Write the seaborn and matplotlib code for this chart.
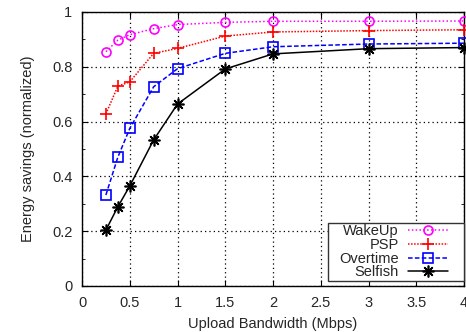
import matplotlib
matplotlib.use("Agg")
import matplotlib.pyplot as plt
import seaborn as sns
import pandas as pd
from matplotlib.ticker import MultipleLocator
from matplotlib.offsetbox import DrawingArea

bandwidth = [0.25, 0.375, 0.5, 0.75, 1.0, 1.5, 2.0, 3.0, 4.0]
wakeup = [0.855, 0.897, 0.917, 0.939, 0.954, 0.962, 0.966, 0.966, 0.967]
psp = [0.628, 0.729, 0.745, 0.849, 0.867, 0.912, 0.927, 0.932, 0.935]
overtime = [0.332, 0.470, 0.575, 0.727, 0.793, 0.849, 0.873, 0.883, 0.886]
selfish = [0.204, 0.289, 0.365, 0.533, 0.664, 0.792, 0.847, 0.866, 0.870]
series_names = ["WakeUp", "PSP", "Overtime", "Selfish"]
x_ticks = [0, 0.5, 1, 1.5, 2, 2.5, 3, 3.5, 4]
x_tick_labels = ["0", "0.5", "1", "1.5", "2", "2.5", "3", "3.5", "4"]
y_ticks = [0, 0.2, 0.4, 0.6, 0.8, 1.0]
y_tick_labels = ["0", "0.2", "0.4", "0.6", "0.8", "1"]

sns.set_style("ticks")
plt.rcParams['font.family'] = ['Liberation Sans', 'DejaVu Sans']
plt.rcParams['font.size'] = 10

fig = plt.figure(figsize=(4.66, 3.32), dpi=100)
ax = fig.add_axes([0.176, 0.1386, 0.820, 0.8254])

styles = {
    "WakeUp": dict(color="#ff00ff", linestyle=(0, (1, 1.5)), marker="o", mfc="none", ms=6.5),
    "PSP": dict(color="#ff0000", linestyle=(0, (1, 1)), marker="+", ms=9),
    "Overtime": dict(color="#0000ff", linestyle=(0, (3, 1.5)), marker="s", mfc="none", ms=6.5),
    "Selfish": dict(color="#000000", linestyle="-", marker=(8, 2, 0), ms=8.5),
}
values = [wakeup, psp, overtime, selfish]
for name, vals in zip(series_names, values):
    df = pd.DataFrame({"x": bandwidth, "y": vals})
    st = styles[name]
    sns.lineplot(data=df, x="x", y="y", ax=ax, color=st["color"], linestyle=st["linestyle"],
                 marker=st["marker"], markersize=st["ms"], markerfacecolor=st.get("mfc", st["color"]),
                 markeredgecolor=st["color"], markeredgewidth=1.2, linewidth=1.1, label=name,
                 clip_on=False, zorder=3)

ax.set_xlim(0, 4)
ax.set_ylim(0, 1)
ax.set_xticks(x_ticks)
ax.set_xticklabels(x_tick_labels)
ax.set_yticks(y_ticks)
ax.set_yticklabels(y_tick_labels)
ax.yaxis.set_minor_locator(MultipleLocator(0.1))
ax.tick_params(which="both", direction="in", top=True, right=True, color="black", labelsize=10.5)
ax.tick_params(which="major", length=4, pad=7)
ax.tick_params(which="minor", length=2.5)
ax.grid(True, which="major", color="black", linestyle=(0, (1, 2.5)), linewidth=0.9)
for s in ax.spines.values():
    s.set_visible(True)
    s.set_color("black")
    s.set_linewidth(1.0)
ax.set_xlabel("Upload Bandwidth (Mbps)", fontsize=10.5, labelpad=5)
ax.set_ylabel("Energy savings (normalized)", fontsize=10.5, labelpad=12)

leg = ax.legend(loc="lower right", bbox_to_anchor=(1.0, 0.02), markerfirst=False, frameon=True,
                fancybox=False, fontsize=10.5, handlelength=2.74, labelspacing=-0.02,
                borderpad=0.08, borderaxespad=0.0, handletextpad=0.68, columnspacing=0.0)
leg.get_frame().set_edgecolor("#333333")
leg.get_frame().set_linewidth(1.0)
leg.get_frame().set_alpha(1)
# extra horizontal padding inside the legend frame
hb = leg._legend_handle_box
hb._children.insert(0, DrawingArea(7.0, 0))
hb._children.append(DrawingArea(10.5, 0))

fig.savefig("out.png", dpi=100)
